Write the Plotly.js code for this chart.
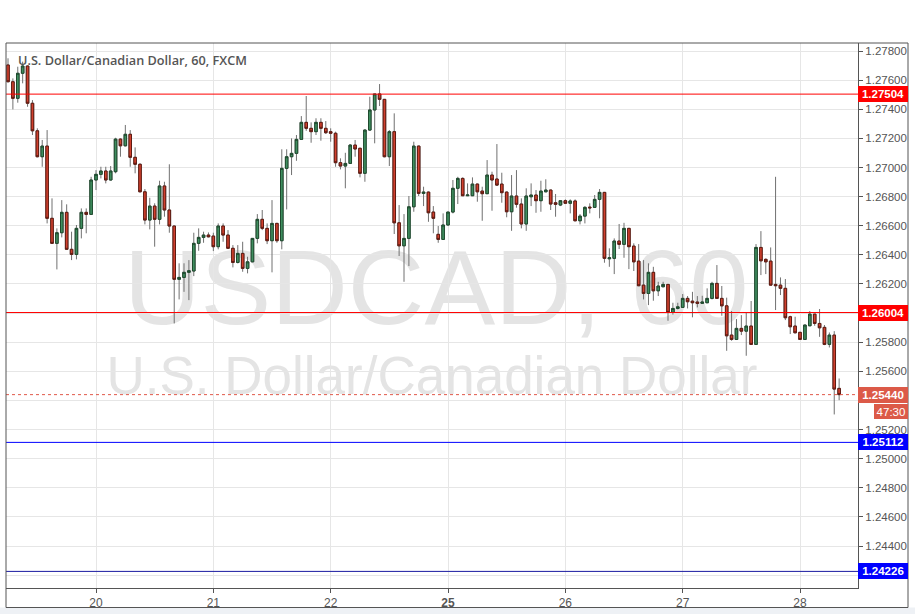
<!DOCTYPE html>
<html>
<head>
<meta charset="utf-8">
<script src="https://cdn.plot.ly/plotly-3.0.1.min.js"></script>
<style>
html,body{margin:0;padding:0;background:#ffffff;}
#chart{width:915px;height:614px;}
</style>
</head>
<body>
<div id="chart"></div>
<script>
// Hourly USD/CAD candles (FXCM, 60 min), bar index 0 = 19th 06:00
const openP = [
1.27704,1.27589,1.27475,1.27647,1.27697,1.27441,1.27252,1.27074,1.27147,1.26651,
1.26479,1.26552,1.26692,1.26438,1.26403,1.26582,1.26692,1.26678,1.26914,1.26953,
1.26976,1.26914,1.26971,1.27195,1.27149,1.27228,1.27070,1.27022,1.26833,1.26639,
1.26735,1.26644,1.26873,1.26708,1.26598,1.26232,1.26245,1.26280,1.26289,1.26479,
1.26520,1.26536,1.26529,1.26456,1.26598,1.26536,1.26445,1.26348,1.26410,1.26307,
1.26352,1.26513,1.26644,1.26582,1.26497,1.26616,1.26497,1.26994,1.27074,1.27097,
1.27193,1.27310,1.27269,1.27246,1.27310,1.27269,1.27246,1.27235,1.27033,1.27010,
1.27028,1.27154,1.27132,1.26960,1.27257,1.27395,1.27505,1.27468,1.27074,1.27246,
1.26620,1.26462,1.26513,1.26730,1.27147,1.26822,1.26831,1.26694,1.26541,1.26506,
1.26605,1.26694,1.26857,1.26925,1.26806,1.26806,1.26886,1.26838,1.26820,1.26948,
1.26921,1.26886,1.26831,1.26696,1.26804,1.26749,1.26612,1.26799,1.26811,1.26772,
1.26833,1.26845,1.26758,1.26742,1.26772,1.26754,1.26770,1.26634,1.26666,1.26728,
1.26726,1.26781,1.26829,1.26373,1.26376,1.26495,1.26472,1.26582,1.26460,1.26357,
1.26192,1.26135,1.26280,1.26153,1.26181,1.26197,1.26005,1.26032,1.26039,1.26101,
1.26082,1.26076,1.26067,1.26071,1.26101,1.26204,1.26101,1.26050,1.25849,1.25819,
1.25895,1.25876,1.25911,1.25785,1.26451,1.26369,1.26357,1.26197,1.26192,1.26170,
1.25975,1.25911,1.25868,1.25819,1.25913,1.25993,1.25929,1.25902,1.25785,1.25849,
1.25483];
const highP = [
1.27750,1.27612,1.27692,1.27727,1.27700,1.27463,1.27269,1.27189,1.27257,1.26788,
1.26582,1.26776,1.26747,1.26559,1.26605,1.26719,1.26719,1.26936,1.26982,1.27005,
1.27005,1.27010,1.27204,1.27200,1.27292,1.27257,1.27138,1.27029,1.26852,1.26792,
1.26754,1.26909,1.26902,1.27022,1.26600,1.26342,1.26342,1.26364,1.26552,1.26582,
1.26559,1.26554,1.26552,1.26616,1.26616,1.26570,1.26467,1.26467,1.26490,1.26387,
1.26515,1.26680,1.26708,1.26616,1.26776,1.26620,1.27125,1.27125,1.27200,1.27223,
1.27353,1.27491,1.27310,1.27338,1.27338,1.27319,1.27269,1.27246,1.27063,1.27101,
1.27161,1.27189,1.27135,1.27262,1.27486,1.27505,1.27573,1.27470,1.27257,1.27372,
1.26742,1.26680,1.26804,1.27177,1.27150,1.26868,1.26835,1.26735,1.26598,1.26685,
1.26694,1.26914,1.26936,1.26932,1.26891,1.26932,1.26889,1.26868,1.27051,1.26971,
1.27161,1.26964,1.26835,1.26948,1.26982,1.26788,1.26857,1.26891,1.26845,1.26909,
1.26919,1.26848,1.26818,1.26775,1.26781,1.26781,1.26781,1.26680,1.26735,1.26754,
1.26811,1.26852,1.26832,1.26445,1.26513,1.26612,1.26620,1.26585,1.26479,1.26474,
1.26364,1.26342,1.26318,1.26215,1.26215,1.26200,1.26071,1.26071,1.26131,1.26117,
1.26146,1.26117,1.26119,1.26170,1.26215,1.26330,1.26186,1.26106,1.26014,1.25959,
1.25986,1.26002,1.26083,1.26474,1.26563,1.26376,1.26451,1.26936,1.26245,1.26234,
1.25982,1.25975,1.25870,1.25920,1.26014,1.25995,1.26028,1.25918,1.25867,1.25876,
1.25551];
const lowP = [
1.27585,1.27399,1.27445,1.27578,1.27417,1.27223,1.27070,1.27005,1.26616,1.26475,
1.26300,1.26520,1.26435,1.26364,1.26369,1.26513,1.26548,1.26675,1.26845,1.26925,
1.26891,1.26910,1.26960,1.27074,1.27145,1.27005,1.26960,1.26830,1.26609,1.26575,
1.26456,1.26609,1.26662,1.26552,1.25929,1.26094,1.26146,1.26089,1.26254,1.26428,
1.26483,1.26520,1.26426,1.26438,1.26490,1.26442,1.26314,1.26341,1.26284,1.26273,
1.26350,1.26479,1.26570,1.26474,1.26280,1.26483,1.26438,1.26712,1.26948,1.27046,
1.27190,1.27252,1.27170,1.27223,1.27184,1.27230,1.27177,1.27005,1.26987,1.26857,
1.27025,1.27074,1.26932,1.26902,1.27252,1.27166,1.27422,1.27070,1.27010,1.26543,
1.26392,1.26215,1.26323,1.26696,1.26804,1.26735,1.26627,1.26548,1.26483,1.26502,
1.26600,1.26685,1.26749,1.26804,1.26804,1.26804,1.26765,1.26634,1.26818,1.26703,
1.26873,1.26758,1.26658,1.26565,1.26724,1.26582,1.26565,1.26735,1.26689,1.26696,
1.26830,1.26708,1.26662,1.26735,1.26749,1.26685,1.26630,1.26609,1.26616,1.26685,
1.26723,1.26651,1.26346,1.26318,1.26268,1.26440,1.26380,1.26302,1.26289,1.26185,
1.26094,1.26055,1.26085,1.26117,1.26177,1.25947,1.25990,1.26025,1.26036,1.26032,
1.25971,1.26039,1.26065,1.26069,1.26094,1.26098,1.25982,1.25741,1.25810,1.25815,
1.25849,1.25707,1.25782,1.25782,1.26261,1.26268,1.26190,1.26021,1.26124,1.25952,
1.25856,1.25860,1.25815,1.25815,1.25910,1.25913,1.25837,1.25780,1.25764,1.25304,
1.25402];
const closeP = [
1.27589,1.27475,1.27647,1.27697,1.27441,1.27252,1.27074,1.27147,1.26651,1.26479,
1.26552,1.26692,1.26438,1.26403,1.26582,1.26692,1.26678,1.26914,1.26953,1.26976,
1.26914,1.26976,1.27195,1.27149,1.27228,1.27070,1.27022,1.26833,1.26639,1.26735,
1.26644,1.26873,1.26708,1.26598,1.26232,1.26245,1.26280,1.26291,1.26479,1.26520,
1.26536,1.26524,1.26456,1.26598,1.26536,1.26445,1.26348,1.26410,1.26307,1.26352,
1.26513,1.26644,1.26582,1.26497,1.26616,1.26497,1.26994,1.27074,1.27097,1.27193,
1.27310,1.27269,1.27246,1.27310,1.27269,1.27239,1.27235,1.27033,1.27010,1.27028,
1.27154,1.27127,1.26960,1.27257,1.27395,1.27505,1.27468,1.27074,1.27246,1.26620,
1.26462,1.26513,1.26730,1.27147,1.26822,1.26831,1.26689,1.26651,1.26506,1.26605,
1.26694,1.26857,1.26925,1.26806,1.26811,1.26886,1.26833,1.26820,1.26948,1.26914,
1.26879,1.26827,1.26696,1.26804,1.26747,1.26612,1.26804,1.26811,1.26772,1.26838,
1.26845,1.26749,1.26747,1.26772,1.26754,1.26770,1.26634,1.26666,1.26726,1.26723,
1.26781,1.26829,1.26376,1.26380,1.26495,1.26472,1.26582,1.26456,1.26352,1.26188,
1.26135,1.26280,1.26153,1.26186,1.26197,1.26005,1.26032,1.26043,1.26101,1.26078,
1.26071,1.26067,1.26076,1.26101,1.26204,1.26101,1.26050,1.25844,1.25819,1.25895,
1.25876,1.25911,1.25785,1.26451,1.26359,1.26352,1.26192,1.26188,1.26170,1.25968,
1.25906,1.25865,1.25819,1.25918,1.25993,1.25929,1.25899,1.25785,1.25849,1.25478,
1.25440];

// day ticks (bar index of 00:00) and their labels
const dayTickIdx = [18, 42, 66, 90, 114, 138, 162];
const dayTickLabels = ["20", "21", "22", "<b>25</b>", "26", "27", "28"];

// price ticks; labels covered by the price tags are left blank
const priceTicks = [1.278, 1.276, 1.274, 1.272, 1.270, 1.268, 1.266, 1.264, 1.262, 1.260,
                    1.258, 1.256, 1.254, 1.252, 1.250, 1.248, 1.246, 1.244, 1.242];
const priceTickLabels = ["1.27800", "1.27600", "1.27400", "1.27200", "1.27000", "1.26800", "1.26600",
                         "1.26400", "1.26200", "", "1.25800", "1.25600", "", "1.25200", "1.25000",
                         "1.24800", "1.24600", "1.24400", ""];

// horizontal levels
const resistanceLevels = [1.27504, 1.26004];
const supportLevels = [1.25112, 1.24226];
const lastPrice = 1.25440;
const countdownText = "47:30";
const chartTitle = "U.S. Dollar/Canadian Dollar, 60, FXCM";
const watermark1 = "USDCAD, 60";
const watermark2 = "U.S. Dollar/Canadian Dollar";

const barIdx = openP.map((_, i) => i);
const bodyHigh = openP.map((o, i) => Math.max(o, closeP[i]));
const bodyLow = openP.map((o, i) => Math.min(o, closeP[i]));

const UP_FILL = '#3f8e5f', UP_LINE = '#1f4a2e';
const DN_FILL = '#d1402e', DN_LINE = '#5e1b12';
const WICK = '#707070';

const traces = [
  {
    type: 'candlestick', x: barIdx, open: openP, high: highP, low: lowP, close: closeP,
    increasing: {line: {color: WICK, width: 1}, fillcolor: UP_FILL},
    decreasing: {line: {color: WICK, width: 1}, fillcolor: DN_FILL},
    whiskerwidth: 0, hoverinfo: 'skip', showlegend: false
  },
  {
    type: 'candlestick', x: barIdx, open: openP, high: bodyHigh, low: bodyLow, close: closeP,
    increasing: {line: {color: UP_LINE, width: 1}, fillcolor: UP_FILL},
    decreasing: {line: {color: DN_LINE, width: 1}, fillcolor: DN_FILL},
    whiskerwidth: 0, hoverinfo: 'skip', showlegend: false
  }
];

const FRAME = '#555555';
const shapes = [];
const annotations = [];

// watermark (below candles)
shapes.push({type: 'rect', xref: 'paper', yref: 'paper', x0: 0.15, x1: 0.86, y0: 0.48, y1: 0.66,
  layer: 'below', line: {width: 0}, fillcolor: 'rgba(0,0,0,0)',
  label: {text: watermark1, textposition: 'middle center',
    font: {family: 'Liberation Sans, Arial, sans-serif', size: 106, color: '#e4e4e4'}}});
shapes.push({type: 'rect', xref: 'paper', yref: 'paper', x0: 0.1, x1: 0.9, y0: 0.345, y1: 0.455,
  layer: 'below', line: {width: 0}, fillcolor: 'rgba(0,0,0,0)',
  label: {text: watermark2, textposition: 'middle center',
    font: {family: 'Liberation Sans, Arial, sans-serif', size: 53, color: '#e4e4e4'}}});

// level lines
resistanceLevels.forEach(v => shapes.push({type: 'line', xref: 'paper', yref: 'y', x0: 0, x1: 1, y0: v, y1: v,
  line: {color: '#ff0000', width: 1}}));
supportLevels.forEach((v, k) => shapes.push({type: 'line', xref: 'paper', yref: 'y', x0: 0, x1: 1, y0: v, y1: v,
  line: {color: k === 0 ? '#0000ff' : '#1a1aa0', width: 1}}));
shapes.push({type: 'line', xref: 'paper', yref: 'y', x0: 0, x1: 1, y0: lastPrice, y1: lastPrice,
  line: {color: '#e0584a', width: 1, dash: 'dot'}});

// outer frame and bottom strip
const RIGHT_EDGE = (908 - 6) / 852;
const BOTTOM_EDGE = (588 - 607.5) / 545;
shapes.push({type: 'rect', xref: 'paper', yref: 'paper', x0: -0.02, x1: 1.08, y0: BOTTOM_EDGE, y1: -0.06,
  line: {width: 0}, fillcolor: '#eef1f5'});
shapes.push({type: 'rect', xref: 'paper', yref: 'paper', x0: 0, x1: RIGHT_EDGE, y0: BOTTOM_EDGE, y1: 1,
  line: {color: FRAME, width: 1}, fillcolor: 'rgba(0,0,0,0)'});

// title
annotations.push({xref: 'paper', yref: 'paper', x: 0.0117, y: (588 - 60) / 545, xanchor: 'left', yanchor: 'middle',
  text: chartTitle, showarrow: false,
  font: {family: 'Open Sans, sans-serif', size: 12.7, color: '#555555', weight: 600}});

// right price tags
function tag(v, bg, txt, bold) {
  annotations.push({xref: 'paper', yref: 'y', x: 1, y: v, xanchor: 'left', yanchor: 'middle',
    text: bold ? '<b>' + txt + '</b>' : txt, showarrow: false, bgcolor: bg, borderpad: 2, borderwidth: 0,
    width: 46, height: 12, align: 'center',
    font: {family: 'Liberation Sans, Arial, sans-serif', size: 11.5, color: '#ffffff'}});
}
resistanceLevels.forEach(v => tag(v, '#ff0000', v.toFixed(5), true));
supportLevels.forEach(v => tag(v, '#0000ff', v.toFixed(5), true));
tag(lastPrice, '#dc5a48', lastPrice.toFixed(5), true);
annotations.push({xref: 'paper', yref: 'paper', x: RIGHT_EDGE, y: (588 - 411.5) / 545, xanchor: 'right', yanchor: 'middle',
  text: countdownText, showarrow: false, bgcolor: '#dc5a48', borderpad: 2, borderwidth: 0, width: 30, height: 11,
  font: {family: 'Liberation Sans, Arial, sans-serif', size: 11.5, color: '#ffffff'}});

const layout = {
  width: 915, height: 614,
  margin: {l: 6, r: 57, t: 43, b: 26, pad: 0},
  paper_bgcolor: '#ffffff', plot_bgcolor: '#ffffff',
  showlegend: false, boxgap: 0.25, dragmode: false,
  xaxis: {
    range: [-0.41, 173.86], rangeslider: {visible: false},
    tickmode: 'array', tickvals: dayTickIdx, ticktext: dayTickLabels,
    showgrid: true, gridcolor: '#e6e6e6', gridwidth: 1, zeroline: false,
    showline: true, linecolor: FRAME, linewidth: 1,
    ticks: 'outside', ticklen: 4, tickcolor: FRAME,
    tickfont: {family: 'Liberation Sans, Arial, sans-serif', size: 12, color: '#555555'}
  },
  yaxis: {
    side: 'right', range: [1.24112, 1.27855],
    tickmode: 'array', tickvals: priceTicks, ticktext: priceTickLabels,
    showgrid: true, gridcolor: '#e6e6e6', gridwidth: 1, zeroline: false,
    showline: true, linecolor: FRAME, linewidth: 1,
    ticks: 'outside', ticklen: 4, tickcolor: FRAME,
    tickfont: {family: 'Liberation Sans, Arial, sans-serif', size: 11.5, color: '#555555'}
  },
  shapes: shapes,
  annotations: annotations
};

Plotly.newPlot('chart', traces, layout, {staticPlot: true, displayModeBar: false});
</script>
</body>
</html>
